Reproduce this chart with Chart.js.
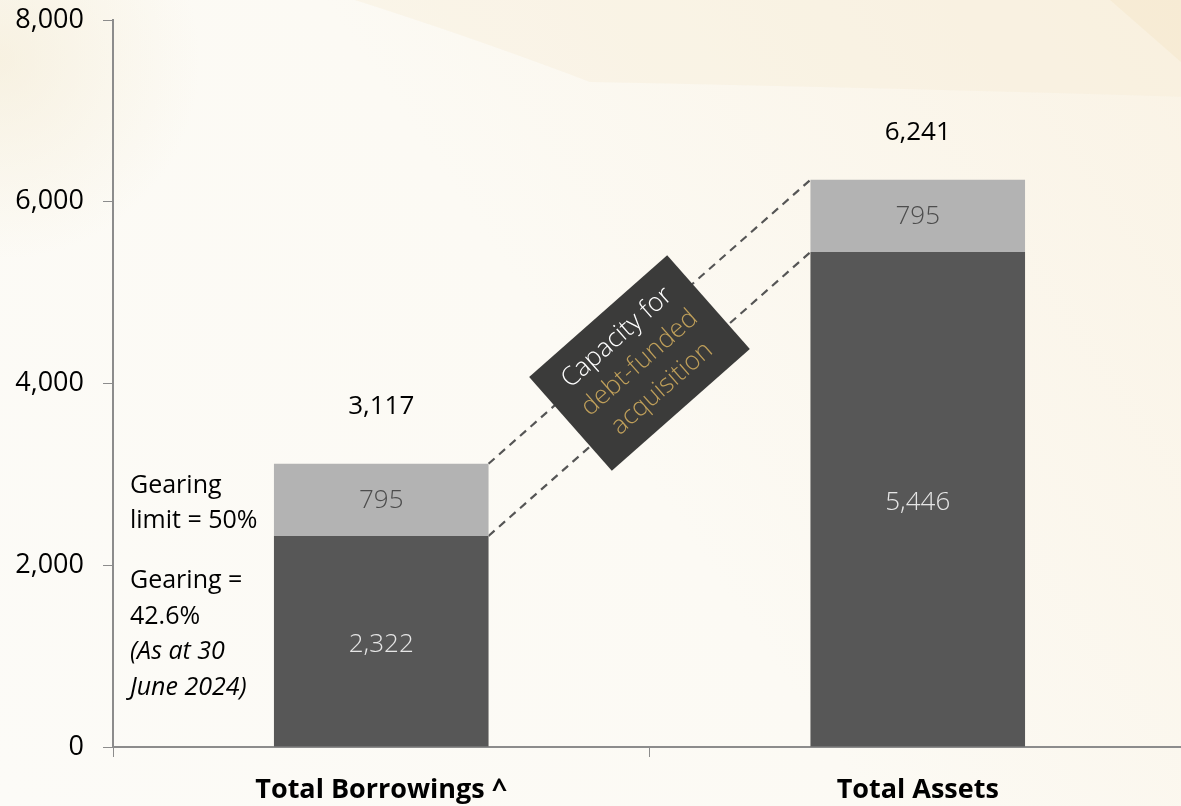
<!DOCTYPE html>
<html>
<head>
<meta charset="utf-8">
<script src="https://cdn.jsdelivr.net/npm/chart.js@4.4.1/dist/chart.umd.min.js"></script>
<style>
  html, body { margin: 0; padding: 0; overflow: hidden; background: #fcfaf5; }
  #wrap { width: 1190px; height: 806px; position: relative; }
</style>
</head>
<body>
<div id="wrap"><canvas id="c" width="1190" height="806"></canvas></div>
<script>
// ---- data ----
const categories = ['Total Borrowings ^', 'Total Assets'];
const baseValues = [2322, 5446];      // dark segment
const capacityValues = [795, 795];    // light segment
const totalValues = [3117, 6241];
const yTicks = [0, 2000, 4000, 6000, 8000];

const FONT = "'Open Sans', sans-serif";
const fmt = v => v.toLocaleString('en-US');

const bgPlugin = {
  id: 'bg',
  beforeDraw(chart) {
    const ctx = chart.ctx, W = chart.width, H = chart.height;
    ctx.save();
    const g = ctx.createLinearGradient(0, H, W, 0);
    g.addColorStop(0, '#fcfbf7');
    g.addColorStop(0.5, '#fcfaf4');
    g.addColorStop(1, '#faf3e5');
    ctx.fillStyle = g;
    ctx.fillRect(0, 0, W, H);
    ctx.fillStyle = 'rgba(246,236,212,0.35)';
    ctx.beginPath();
    ctx.moveTo(355, 0);
    ctx.quadraticCurveTo(480, 40, 590, 82);
    ctx.quadraticCurveTo(900, 88, 1190, 97);
    ctx.lineTo(1190, 0);
    ctx.closePath();
    ctx.fill();
    ctx.fillStyle = 'rgba(243,226,190,0.3)';
    ctx.beginPath();
    ctx.moveTo(1110, 0);
    ctx.lineTo(1190, 70);
    ctx.lineTo(1190, 0);
    ctx.closePath();
    ctx.fill();
    const g2 = ctx.createRadialGradient(0, 60, 0, 0, 60, 200);
    g2.addColorStop(0, 'rgba(244,235,212,0.6)');
    g2.addColorStop(1, 'rgba(244,235,212,0)');
    ctx.fillStyle = g2;
    ctx.fillRect(0, 0, 220, 280);
    ctx.restore();
  }
};

const overlayPlugin = {
  id: 'overlay',
  beforeDatasetsDraw(chart) {
    const ctx = chart.ctx;
    const m0 = chart.getDatasetMeta(0);
    const y = chart.scales.y;
    const b0 = m0.data[0], b1 = m0.data[1];
    const x1 = b0.x + b0.width / 2, x2 = b1.x - b1.width / 2;
    ctx.save();
    ctx.strokeStyle = '#555555';
    ctx.lineWidth = 2.2;
    ctx.setLineDash([8, 6]);
    [[baseValues[0], baseValues[1]], [totalValues[0], totalValues[1]]].forEach(([a, b]) => {
      ctx.beginPath();
      ctx.moveTo(x1, y.getPixelForValue(a));
      ctx.lineTo(x2, y.getPixelForValue(b));
      ctx.stroke();
    });
    ctx.restore();
  },
  afterDatasetsDraw(chart) {
    const ctx = chart.ctx;
    const y = chart.scales.y;
    const m0 = chart.getDatasetMeta(0), m1 = chart.getDatasetMeta(1);
    ctx.save();
    ctx.textAlign = 'center';
    ctx.textBaseline = 'middle';
    ctx.font = `300 26px ${FONT}`;
    m0.data.forEach((bar, i) => {
      ctx.fillStyle = '#e6e6e6';
      ctx.fillText(fmt(baseValues[i]), bar.x, (bar.y + bar.base) / 2 + 3);
    });
    m1.data.forEach((bar, i) => {
      ctx.fillStyle = '#4d4d4d';
      ctx.fillText(fmt(capacityValues[i]), bar.x, (bar.y + bar.base) / 2 + 1);
    });
    const totalOffsets = [57, 47];
    ctx.font = `400 26px ${FONT}`;
    ctx.fillStyle = '#000';
    m1.data.forEach((bar, i) => {
      ctx.fillText(fmt(totalValues[i]), bar.x, y.getPixelForValue(totalValues[i]) - totalOffsets[i]);
    });

    ctx.save();
    ctx.translate(639.5, 363);
    ctx.rotate(-41.4 * Math.PI / 180);
    ctx.fillStyle = '#3b3b3a';
    ctx.fillRect(-92, -62.5, 184, 125);
    ctx.font = `300 26px ${FONT}`;
    ctx.fillStyle = '#ffffff';
    ctx.fillText('Capacity for', 0, -34);
    ctx.fillStyle = '#bf9f5a';
    ctx.fillText('debt-funded', 0, 0);
    ctx.fillText('acquisition', 0, 34);
    ctx.restore();

    ctx.textAlign = 'left';
    ctx.fillStyle = '#000';
    ctx.font = `400 25px ${FONT}`;
    ctx.fillText('Gearing', 130, 486);
    ctx.fillText('limit = 50%', 130, 521);
    ctx.fillText('Gearing =', 130, 581);
    ctx.fillText('42.6%', 130, 617);
    ctx.font = `italic 400 25px ${FONT}`;
    ctx.fillText('(As at 30', 130, 652);
    ctx.fillText('June 2024)', 130, 688);
    ctx.restore();
  }
};

new Chart(document.getElementById('c'), {
  type: 'bar',
  data: {
    labels: categories,
    datasets: [
      { label: 'Base', data: baseValues, backgroundColor: '#575757', stack: 's',
        barPercentage: 0.8, categoryPercentage: 0.5 },
      { label: 'Capacity', data: capacityValues, backgroundColor: '#b3b3b3', stack: 's',
        barPercentage: 0.8, categoryPercentage: 0.5 }
    ]
  },
  options: {
    responsive: false,
    animation: false,
    events: [],
    layout: { padding: { top: 20, right: 4, left: 0, bottom: 0 } },
    plugins: { legend: { display: false }, tooltip: { enabled: false } },
    scales: {
      x: {
        stacked: true,
        grid: { drawOnChartArea: false, drawTicks: true, tickLength: 10, color: '#8c8c8c', offset: true },
        border: { color: '#8c8c8c', width: 2 },
        ticks: { color: '#000', font: { family: FONT, size: 27, weight: 'bold' }, padding: 17, maxRotation: 0 },
        afterFit(s) { s.height = 59; s.paddingLeft = 0; s.paddingRight = 0; }
      },
      y: {
        stacked: true,
        min: 0, max: 8000,
        afterBuildTicks(s) { s.ticks = yTicks.map(v => ({ value: v })); },
        grid: { drawOnChartArea: false, drawTicks: true, tickLength: 10, color: '#8c8c8c' },
        border: { color: '#8c8c8c', width: 2 },
        ticks: { color: '#000', font: { family: FONT, size: 27 }, padding: 19,
                 callback: v => fmt(v) },
        afterFit(s) { s.width = 113; s.paddingTop = 0; s.paddingBottom = 0; }
      }
    }
  },
  plugins: [bgPlugin, overlayPlugin]
});
</script>
</body>
</html>
